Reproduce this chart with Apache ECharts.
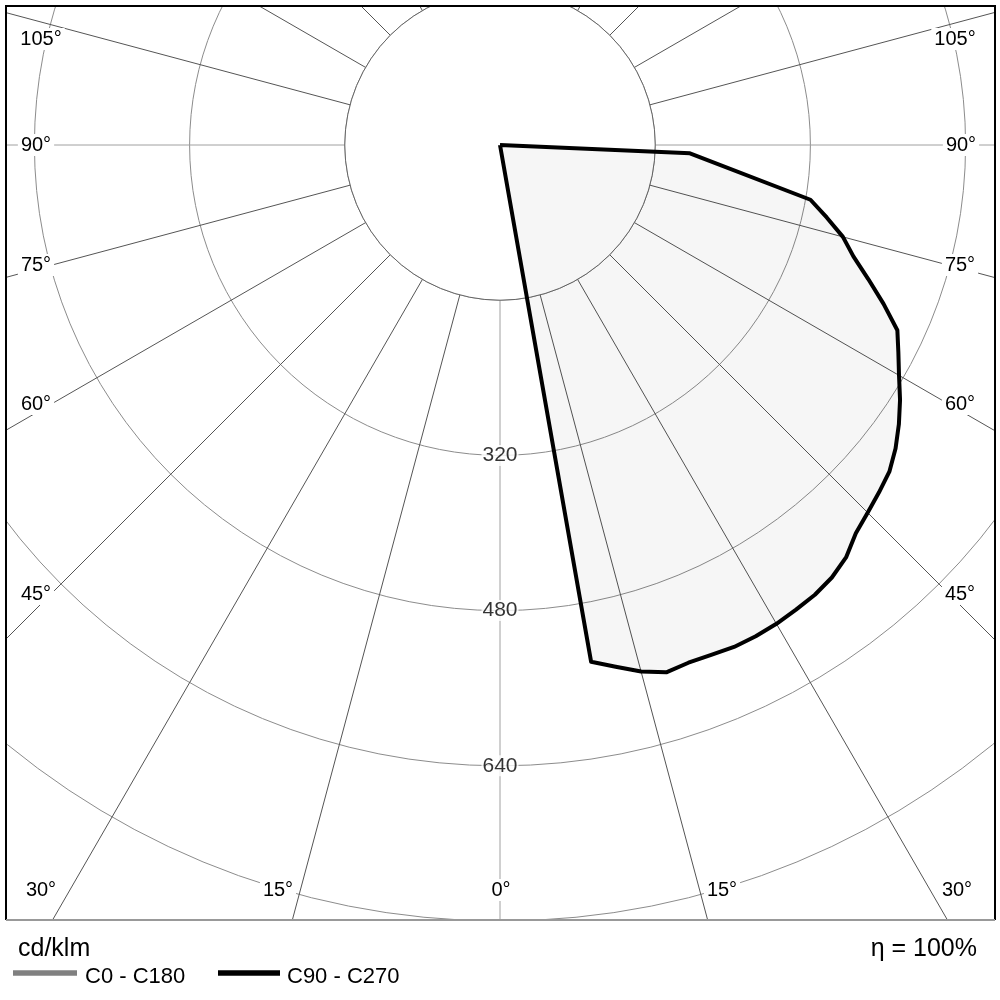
<!DOCTYPE html>
<html>
<head>
<meta charset="utf-8">
<style>
  html, body { margin: 0; padding: 0; background: #fff; }
  #chart { width: 1000px; height: 1000px; }
</style>
<script src="https://cdn.jsdelivr.net/npm/echarts@6/dist/echarts.min.js"></script>
</head>
<body>
<div id="chart"></div>
<script>
// luminous intensity distribution, cd/klm
var gammaAngles = [0, 5, 10, 12.5, 15, 17.5, 20, 22.5, 25, 27.5, 30, 32.5, 35, 37.5, 40, 42.5, 45,
  47.5, 50, 52.5, 55, 57.5, 60, 62.5, 65, 67.5, 70, 72.5, 75, 77.5, 80, 87.5, 90];
var c90Values = [0, 0, 541, 551, 562, 570, 568, 569, 571, 571, 570, 568, 566, 562, 555, 543, 536,
  530, 524, 514, 502, 489, 475, 463, 452, 428, 404, 382, 366, 345, 325, 196, 0];
var radiusLabels = [320, 480, 640];
var angleLabels = ['0°', '15°', '30°', '45°', '60°', '75°', '90°', '105°'];
var seriesNames = ['C0 - C180', 'C90 - C270'];
var unitLabel = 'cd/klm';
var efficiency = 'η = 100%';

var FONT = '"Liberation Sans", Arial, sans-serif';
var k = 0.970; // px per cd/klm
var cx = 500, cy = 145;

// where each angle label sits on the frame edge
var labelSpots = {
  '0°': [[501, 890]],
  '15°': [[278, 890], [722, 890]],
  '30°': [[41, 890], [957, 890]],
  '45°': [[36, 594], [960, 594]],
  '60°': [[36, 404], [960, 404]],
  '75°': [[36, 265], [960, 265]],
  '90°': [[36, 145], [961, 145]],
  '105°': [[41, 39], [955, 39]]
};

var graphics = [];
// blank hub of the diagram, under the curve
graphics.push({ type: 'circle', shape: { cx: cx, cy: cy, r: 160 * k },
  style: { fill: '#fff', stroke: '#666', lineWidth: 1 }, z: 1, silent: true });
// mask everything outside the frame
[[0, 0, 1000, 5], [0, 0, 5, 921], [996, 0, 4, 921], [0, 921, 1000, 79]].forEach(function (r) {
  graphics.push({ type: 'rect', shape: { x: r[0], y: r[1], width: r[2], height: r[3] },
    style: { fill: '#fff' }, z: 50, silent: true });
});
graphics.push({ type: 'polyline', shape: { points: [[6, 920], [6, 6], [995, 6], [995, 920]] },
  style: { stroke: '#000', lineWidth: 2, fill: null }, z: 60, silent: true });
graphics.push({ type: 'line', shape: { x1: 6, y1: 920, x2: 995, y2: 920 },
  style: { stroke: '#999', lineWidth: 2 }, z: 60, silent: true });

angleLabels.forEach(function (t) {
  labelSpots[t].forEach(function (p) {
    graphics.push({ type: 'text', x: p[0], y: p[1], z: 70, silent: true,
      style: { text: t, font: '20px ' + FONT, fill: '#000', align: 'center', verticalAlign: 'middle',
        backgroundColor: '#fff', padding: [1, 3] } });
  });
});

// legend + footer
graphics.push({ type: 'text', x: 18, y: 949, z: 70, silent: true,
  style: { text: unitLabel, font: '25px ' + FONT, fill: '#000', align: 'left', verticalAlign: 'middle' } });
graphics.push({ type: 'text', x: 977, y: 949, z: 70, silent: true,
  style: { text: efficiency, font: '25px ' + FONT, fill: '#000', align: 'right', verticalAlign: 'middle' } });
graphics.push({ type: 'line', shape: { x1: 13, y1: 973, x2: 77, y2: 973 },
  style: { stroke: '#808080', lineWidth: 5.5 }, z: 70, silent: true });
graphics.push({ type: 'text', x: 85, y: 977, z: 70, silent: true,
  style: { text: seriesNames[0], font: '22px ' + FONT, fill: '#000', align: 'left', verticalAlign: 'middle' } });
graphics.push({ type: 'line', shape: { x1: 218, y1: 973, x2: 280, y2: 973 },
  style: { stroke: '#000', lineWidth: 5.5 }, z: 70, silent: true });
graphics.push({ type: 'text', x: 287, y: 977, z: 70, silent: true,
  style: { text: seriesNames[1], font: '22px ' + FONT, fill: '#000', align: 'left', verticalAlign: 'middle' } });

var chart = echarts.init(document.getElementById('chart'));
var option = {
  animation: false,
  backgroundColor: '#fff',
  polar: {
    center: [cx, cy],
    radius: [0, 1120 * k]
  },
  angleAxis: {
    type: 'value',
    min: 0,
    max: 360,
    interval: 15,
    startAngle: 270,
    clockwise: false,
    z: 0,
    axisLine: { show: false },
    axisTick: { show: false },
    axisLabel: { show: false },
    splitLine: {
      show: true,
      lineStyle: { color: ['#a0a0a0', '#555', '#555', '#555', '#555', '#555'], width: 1 }
    }
  },
  radiusAxis: {
    type: 'value',
    min: 0,
    max: 1120,
    interval: 160,
    z: 0,
    axisLine: { show: false },
    axisTick: { show: false },
    axisLabel: { show: false },
    splitLine: {
      show: true,
      lineStyle: { color: ['#8c8c8c'], width: 1 }
    }
  },
  series: [
    {
      name: seriesNames[1],
      type: 'line',
      coordinateSystem: 'polar',
      data: gammaAngles.map(function (a, i) { return [c90Values[i], a]; }),
      symbol: 'none',
      clip: false,
      smooth: false,
      lineStyle: { color: '#000', width: 4, join: 'round' },
      areaStyle: { color: 'rgba(0,0,0,0.05)' },
      z: 3
    },
    {
      type: 'scatter',
      coordinateSystem: 'polar',
      data: radiusLabels.map(function (v) { return [v, 0]; }),
      symbolSize: 1,
      itemStyle: { color: 'rgba(0,0,0,0)' },
      silent: true,
      z: 5,
      label: {
        show: true,
        position: 'inside',
        formatter: function (p) { return p.value[0]; },
        color: '#000',
        fontSize: 21,
        fontFamily: FONT,
        backgroundColor: '#fff',
        padding: [0, 1]
      }
    }
  ],
  graphic: graphics
};
chart.setOption(option);
</script>
</body>
</html>
